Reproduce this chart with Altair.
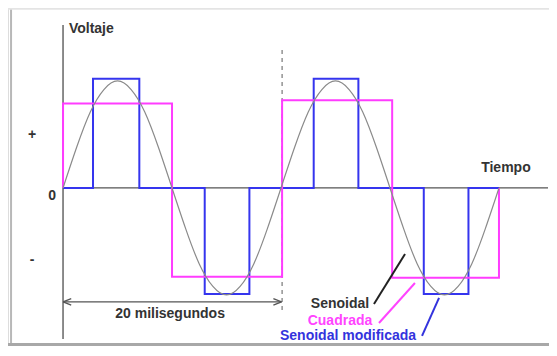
import altair as alt
import pandas as pd

# ---- data (time in ms, voltage in relative units) ----
sine_t = [i * 1.25 for i in range(33)]
sine_v = [0, 0.38, 0.71, 0.92, 1.0, 0.92, 0.71, 0.38, 0,
          -0.38, -0.71, -0.92, -1.0, -0.92, -0.71, -0.38, 0,
          0.38, 0.71, 0.92, 1.0, 0.92, 0.71, 0.38, 0,
          -0.38, -0.71, -0.92, -1.0, -0.92, -0.71, -0.38, 0]

square_t = [0, 0, 10, 10, 20.1, 20.1, 30.2, 30.2, 40, 40]
square_v = [0, 0.79, 0.79, -0.83, -0.83, 0.82, 0.82, -0.84, -0.84, 0]

mod_t = [0, 2.75, 2.75, 7.0, 7.0, 13.0, 13.0, 17.1, 17.1, 23.0, 23.0, 27.1,
         27.1, 33.1, 33.1, 37.2, 37.2, 40]
mod_v = [0, 0, 1.02, 1.02, 0, 0, -0.99, -0.99, 0, 0, 1.02, 1.02,
         0, 0, -0.99, -0.99, 0, 0]

labels = ["Voltaje", "+", "0", "-", "Tiempo", "20 milisegundos",
          "Senoidal", "Cuadrada", "Senoidal modificada"]
label_t = [2.6, -2.84, -1.01, -2.84, 40.64, 9.82, 25.41, 25.41, 26.15]
label_v = [1.49, 0.495, -0.075, -0.673, 0.187, -1.178, -1.084, -1.243, -1.383]
label_color = ["#333333", "#333333", "#333333", "#333333", "#333333", "#333333",
               "#333333", "#ff44ff", "#3333dd"]

X_DOMAIN = [-5.05, 44.59]
Y_DOMAIN = [-1.477, 1.682]

xs = alt.Scale(domain=X_DOMAIN, nice=False, zero=False)
ys = alt.Scale(domain=Y_DOMAIN, nice=False, zero=False)


def seg_df(rows):
    return pd.DataFrame(rows, columns=["x", "y", "x2", "y2", "c", "w"])


def rules(rows, dash=None):
    m = alt.Chart(seg_df(rows)).mark_rule(strokeDash=dash) if dash else alt.Chart(seg_df(rows)).mark_rule()
    return m.encode(
        x=alt.X("x:Q", scale=xs, axis=None),
        y=alt.Y("y:Q", scale=ys, axis=None),
        x2="x2:Q", y2="y2:Q",
        color=alt.Color("c:N", scale=None),
        strokeWidth=alt.StrokeWidth("w:Q", scale=None),
    )


frame = rules([
    [-4.77, 1.682, -4.77, -1.477, "#b8b8b8", 2],
    [-5.05, 1.675, 44.59, 1.675, "#e4e4e4", 2],
    [-5.05, -1.462, 44.59, -1.462, "#a8a8a8", 3],
])

axes = rules([
    [0, 1.523, 0, -1.411, "#666666", 1.5],
    [0, 0, 44.5, 0, "#555555", 1.2],
])

dashed = rules([[20.1, 1.29, 20.1, -1.17, "#777777", 1.2]], dash=[4, 4])


def line(t, v, color, width):
    df = pd.DataFrame({"t": t, "v": v, "i": range(len(t))})
    return alt.Chart(df).mark_line(color=color, strokeWidth=width, interpolate="linear").encode(
        x=alt.X("t:Q", scale=xs, axis=None),
        y=alt.Y("v:Q", scale=ys, axis=None),
        order="i:Q",
    )


mod_line = line(mod_t, mod_v, "#3535ee", 2)
square_line = line(square_t, square_v, "#ff3cff", 2)
sine_df = pd.DataFrame({"t": sine_t, "v": sine_v})
sine_line = alt.Chart(sine_df).mark_line(color="#8a8a8a", strokeWidth=1.2, interpolate="natural").encode(
    x=alt.X("t:Q", scale=xs, axis=None),
    y=alt.Y("v:Q", scale=ys, axis=None),
)

arrow = rules([
    [0, -1.065, 20.05, -1.065, "#555555", 1.3],
    [0, -1.065, 0.75, -1.035, "#555555", 1.3],
    [0, -1.065, 0.75, -1.095, "#555555", 1.3],
    [20.05, -1.065, 19.3, -1.035, "#555555", 1.3],
    [20.05, -1.065, 19.3, -1.095, "#555555", 1.3],
])

pointers = rules([
    [28.53, -1.084, 31.38, -0.617, "#222222", 2],
    [28.99, -1.262, 32.29, -0.888, "#ff44ff", 2],
    [32.94, -1.383, 34.50, -1.028, "#3333dd", 2],
])

text_df = pd.DataFrame({"label": labels, "t": label_t, "v": label_v, "c": label_color})
texts = alt.Chart(text_df).mark_text(
    font="Liberation Sans", fontWeight="bold", fontSize=14, align="center", baseline="middle"
).encode(
    x=alt.X("t:Q", scale=xs, axis=None),
    y=alt.Y("v:Q", scale=ys, axis=None),
    text="label:N",
    color=alt.Color("c:N", scale=None),
)

chart = alt.layer(
    frame, axes, dashed, mod_line, square_line, sine_line, arrow, pointers, texts
).properties(
    width=541, height=338, padding=0, autosize=alt.AutoSizeParams(type="none")
).configure_view(stroke=None).configure(background="white")

chart.save("out.html", embed_options={"renderer": "svg", "actions": False})
